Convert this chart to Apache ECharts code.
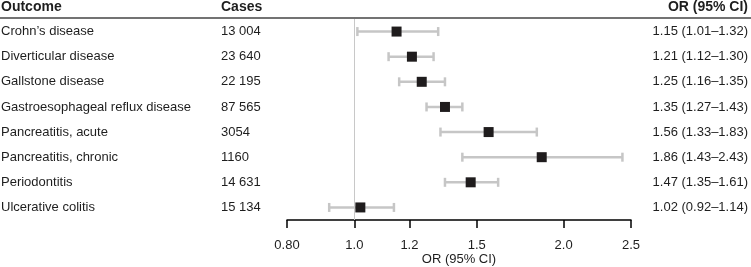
<!DOCTYPE html>
<html>
<head>
<meta charset="utf-8">
<script src="https://cdn.jsdelivr.net/npm/echarts@6/dist/echarts.min.js"></script>
<style>
html,body{margin:0;padding:0;background:#fff;}
#chart{width:751px;height:267px;}
</style>
</head>
<body>
<div id="chart"></div>
<script>
const outcomes = ["Crohn\u2019s disease", "Diverticular disease", "Gallstone disease", "Gastroesophageal reflux disease", "Pancreatitis, acute", "Pancreatitis, chronic", "Periodontitis", "Ulcerative colitis"];
const cases = ["13 004", "23 640", "22 195", "87 565", "3054", "1160", "14 631", "15 134"];
const orValues = [1.15, 1.21, 1.25, 1.35, 1.56, 1.86, 1.47, 1.02];
const lowerCI = [1.01, 1.12, 1.16, 1.27, 1.33, 1.43, 1.35, 0.92];
const upperCI = [1.32, 1.30, 1.35, 1.43, 1.83, 2.43, 1.61, 1.14];
const tickValues = [0.8, 1.0, 1.2, 1.5, 2.0, 2.5];
const tickLabels = ["0.80", "1.0", "1.2", "1.5", "2.0", "2.5"];

const FONT = "Liberation Sans, Arial, Helvetica, sans-serif";
const TXT = "#1e1e1e";
const ln = Math.log;
const logTicks = tickValues.map(ln);

function tickLabelFor(v) {
  let best = 0, bd = Infinity;
  logTicks.forEach((t, i) => { const d = Math.abs(t - v); if (d < bd) { bd = d; best = i; } });
  return tickLabels[best];
}

const chart = echarts.init(document.getElementById('chart'), null, {renderer: 'canvas'});
const option = {
  backgroundColor: '#fff',
  animation: false,
  textStyle: {fontFamily: FONT},
  grid: {left: 287, right: 120, top: 19, bottom: 47, containLabel: false, outerBoundsMode: 'none'},
  xAxis: {
    type: 'value',
    min: ln(0.8),
    max: ln(2.5),
    splitLine: {show: false},
    axisLine: {show: true, lineStyle: {color: '#000', width: 1.5}},
    axisTick: {show: true, length: 8, lineStyle: {color: '#000', width: 1.5}, customValues: logTicks},
    axisLabel: {customValues: logTicks, formatter: v => tickLabelFor(v), color: TXT, fontSize: 13, fontFamily: FONT, margin: 19},
    name: 'OR (95% CI)',
    nameLocation: 'middle',
    nameGap: 33,
    nameMoveOverlap: false,
    nameTextStyle: {color: TXT, fontSize: 13, fontFamily: FONT}
  },
  yAxis: [{
    type: 'category',
    data: outcomes,
    inverse: true,
    axisLine: {show: false},
    axisTick: {show: false},
    splitLine: {show: false},
    axisLabel: {
      interval: 0,
      align: 'left',
      margin: 286,
      formatter: (v, i) => '{a|' + v + '}{b|' + cases[i] + '}',
      rich: {
        a: {width: 220, fontSize: 13, color: TXT, fontFamily: FONT},
        b: {fontSize: 13, color: TXT, fontFamily: FONT}
      }
    }
  }, {
    type: 'category',
    data: outcomes,
    inverse: true,
    position: 'right',
    axisLine: {show: false},
    axisTick: {show: false},
    splitLine: {show: false},
    axisLabel: {
      interval: 0,
      align: 'right',
      margin: 117,
      color: TXT,
      fontSize: 13,
      fontFamily: FONT,
      formatter: (v, i) => orValues[i].toFixed(2) + ' (' + lowerCI[i].toFixed(2) + '\u2013' + upperCI[i].toFixed(2) + ')'
    }
  }],
  graphic: [
    {type: 'line', shape: {x1: 0, y1: 18, x2: 751, y2: 18}, style: {stroke: '#444', lineWidth: 1.5}, z: 10},
    {type: 'text', left: 1, top: 0, style: {text: 'Outcome', font: 'bold 14px ' + FONT, fill: TXT}},
    {type: 'text', left: 221, top: 0, style: {text: 'Cases', font: 'bold 14px ' + FONT, fill: TXT}},
    {type: 'text', right: 3, top: 0, style: {text: 'OR (95% CI)', font: 'bold 14px ' + FONT, fill: TXT}}
  ],
  series: [{
    type: 'custom',
    xAxisIndex: 0,
    yAxisIndex: 0,
    data: outcomes.map((o, i) => [ln(lowerCI[i]), ln(upperCI[i]), i]),
    encode: {x: [0, 1], y: 2},
    z: 3,
    renderItem: (params, api) => {
      const y = api.value(2);
      const p1 = api.coord([api.value(0), y]);
      const p2 = api.coord([api.value(1), y]);
      const st = {stroke: '#c6c6c6', lineWidth: 2.5};
      const h = 4.5;
      return {type: 'group', children: [
        {type: 'line', shape: {x1: p1[0], y1: p1[1], x2: p2[0], y2: p2[1]}, style: st},
        {type: 'line', shape: {x1: p1[0], y1: p1[1] - h, x2: p1[0], y2: p1[1] + h}, style: st},
        {type: 'line', shape: {x1: p2[0], y1: p2[1] - h, x2: p2[0], y2: p2[1] + h}, style: st}
      ]};
    }
  }, {
    type: 'scatter',
    xAxisIndex: 0,
    yAxisIndex: 0,
    data: orValues.map((v, i) => [ln(v), i]),
    symbol: 'rect',
    symbolSize: 10,
    itemStyle: {color: '#1f1c1d', opacity: 1},
    z: 5,
    markLine: {
      silent: true,
      symbol: 'none',
      label: {show: false},
      lineStyle: {color: '#c8c8c8', width: 1, type: 'solid', opacity: 1},
      data: [{xAxis: 0}],
      z: 1
    }
  }]
};
chart.setOption(option);
</script>
</body>
</html>
